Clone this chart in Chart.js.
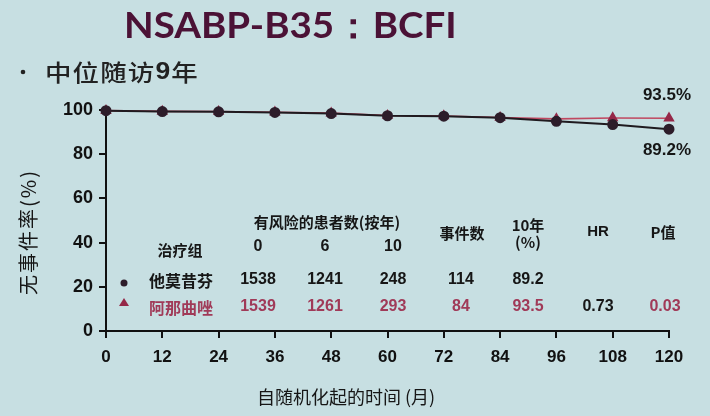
<!DOCTYPE html>
<html>
<head>
<meta charset="utf-8">
<script src="https://cdn.jsdelivr.net/npm/chart.js@4/dist/chart.umd.min.js"></script>
<style>
  html, body { margin: 0; padding: 0; background: #c7dfe2; }
  #wrap { width: 710px; height: 416px; position: relative; }
</style>
</head>
<body>
<div id="wrap"><canvas id="c" width="710" height="416"></canvas></div>
<script>
// ---- data ----
const months = [0, 12, 24, 36, 48, 60, 72, 84, 96, 108, 120];
const tamoxifen = [99.7, 99.3, 99.2, 98.9, 98.4, 97.4, 97.2, 96.5, 94.9, 93.4, 91.3];
const anastrozole = [99.7, 99.4, 99.3, 99.0, 98.6, 97.5, 97.3, 96.6, 96.0, 96.4, 96.3];
const xTicks = [0, 12, 24, 36, 48, 60, 72, 84, 96, 108, 120];
const yTicks = [0, 20, 40, 60, 80, 100];

const titleText = 'NSABP-B35：BCFI';
const subtitleText = '中位随访9年';
const yTitle = '无事件率(%)';
const xTitle = '自随机化起的时间 (月)';
const endLabels = ['93.5%', '89.2%'];

// table
const groups = ['他莫昔芬', '阿那曲唑'];
const atRisk0 = ['1538', '1539'];
const atRisk6 = ['1241', '1261'];
const atRisk10 = ['248', '293'];
const events = ['114', '84'];
const tenYear = ['89.2', '93.5'];
const hrVals = ['', '0.73'];
const pVals = ['', '0.03'];

const DARK = '#1f1a1f';
const RED = '#c04860';
const RED_MARK = '#952848';
const RED_TEXT = '#a03a58';
const CJK = '"Noto Sans CJK SC", "Noto Sans", sans-serif';
const LAT = '"Liberation Sans", Arial, sans-serif';

const decor = {
  id: 'decor',
  beforeDraw(chart) {
    const ctx = chart.ctx;
    ctx.save();
    ctx.fillStyle = '#c7dfe2';
    ctx.fillRect(0, 0, chart.width, chart.height);
    ctx.restore();
  },
  afterDraw(chart) {
    const ctx = chart.ctx;
    const area = chart.chartArea;
    ctx.save();
    // small axis extensions past the origin
    ctx.strokeStyle = '#111';
    ctx.lineWidth = 2;
    ctx.beginPath();
    ctx.moveTo(area.left - 7, area.bottom);
    ctx.lineTo(area.left, area.bottom);
    ctx.moveTo(area.left, area.bottom);
    ctx.lineTo(area.left, area.bottom + 6);
    ctx.stroke();

    ctx.textBaseline = 'middle';
    // title
    ctx.fillStyle = '#4b1236';
    ctx.font = 'bold 36px Lato, "Open Sans", sans-serif';
    ctx.textAlign = 'left';
    ctx.save();
    ctx.translate(124, 26);
    ctx.scale(1.07, 1);
    ctx.fillText(titleText, 0, 0);
    ctx.restore();
    // subtitle
    ctx.fillStyle = '#222';
    ctx.beginPath();
    ctx.arc(23, 72, 2.3, 0, Math.PI * 2);
    ctx.fill();
    ctx.save();
    ctx.translate(45, 72);
    ctx.scale(1.15, 1);
    ctx.letterSpacing = '1px';
    ctx.font = '500 23px ' + CJK;
    ctx.fillText('中位随访', 0, 0);
    let w = ctx.measureText('中位随访').width;
    ctx.font = 'bold 23px ' + LAT;
    ctx.fillText('9', w, 1);
    w += ctx.measureText('9').width;
    ctx.font = '500 23px ' + CJK;
    ctx.fillText('年', w, 0);
    ctx.restore();
    // axis titles
    ctx.fillStyle = '#161616';
    ctx.font = '18px ' + CJK;
    ctx.textAlign = 'center';
    ctx.fillText(xTitle, 346, 397);
    ctx.save();
    ctx.translate(28, 232);
    ctx.rotate(-Math.PI / 2);
    ctx.letterSpacing = '2px';
    ctx.font = '20px ' + CJK;
    ctx.fillText(yTitle, 0, 0);
    ctx.restore();
    // end labels
    ctx.font = 'bold 17px ' + LAT;
    ctx.fillStyle = '#161616';
    ctx.fillText(endLabels[0], 667, 95);
    ctx.fillText(endLabels[1], 667, 150);
    // table header
    ctx.font = 'bold 15px ' + CJK;
    ctx.fillText('有风险的患者数(按年)', 327, 222);
    ctx.fillText('事件数', 462, 233);
    ctx.fillText('10年', 528, 225);
    ctx.fillText('(%)', 528, 242);
    ctx.font = 'bold 15px ' + LAT;
    ctx.fillText('HR', 598, 232);
    ctx.font = 'bold 15px ' + CJK;
    ctx.fillText('P值', 663, 232);
    ctx.fillText('治疗组', 180, 250);
    ctx.font = 'bold 16px ' + LAT;
    ctx.fillText('0', 258, 247);
    ctx.fillText('6', 325, 247);
    ctx.fillText('10', 393, 247);
    // rows
    const rowY = [280, 307];
    const cols = [258, 325, 393, 461, 528, 598, 665];
    for (let r = 0; r < 2; r++) {
      const y = rowY[r];
      const col = r === 0 ? '#161616' : RED_TEXT;
      ctx.fillStyle = col;
      ctx.font = 'bold 16px ' + CJK;
      ctx.fillText(groups[r], 181, y + 1);
      ctx.font = 'bold 16px ' + LAT;
      const vals = [atRisk0[r], atRisk6[r], atRisk10[r], events[r], tenYear[r], hrVals[r], pVals[r]];
      vals.forEach((v, i) => {
        ctx.fillStyle = (r === 1 && i === 5) ? '#161616' : col;
        ctx.fillText(v, cols[i], y);
      });
    }
    // row markers
    ctx.fillStyle = '#2d1d2a';
    ctx.beginPath();
    ctx.arc(124, 283, 3.5, 0, Math.PI * 2);
    ctx.fill();
    ctx.fillStyle = RED_MARK;
    ctx.beginPath();
    ctx.moveTo(124, 298);
    ctx.lineTo(129, 306);
    ctx.lineTo(119, 306);
    ctx.closePath();
    ctx.fill();
    ctx.restore();
  }
};

const toPts = arr => months.map((m, i) => ({ x: m, y: arr[i] }));

new Chart(document.getElementById('c'), {
  type: 'line',
  data: {
    datasets: [
      {
        label: groups[0],
        data: toPts(tamoxifen),
        borderColor: DARK,
        borderWidth: 2,
        pointStyle: 'circle',
        pointRadius: 4.5,
        pointBackgroundColor: '#2d1d2a',
        pointBorderColor: '#2d1d2a',
        clip: false,
        order: 0
      },
      {
        label: groups[1],
        data: toPts(anastrozole),
        borderColor: RED,
        borderWidth: 1.6,
        pointStyle: 'triangle',
        pointRadius: 5,
        pointBackgroundColor: RED_MARK,
        pointBorderColor: RED_MARK,
        clip: false,
        order: 1
      }
    ]
  },
  options: {
    responsive: false,
    animation: false,
    layout: { padding: { top: 110, left: 46, right: 41, bottom: 0 } },
    plugins: { legend: { display: false }, tooltip: { enabled: false }, title: { display: false } },
    scales: {
      x: {
        type: 'linear',
        min: 0, max: 120,
        afterBuildTicks: s => { s.ticks = xTicks.map(v => ({ value: v })); },
        afterFit: s => { s.height = 85; },
        ticks: { color: '#111', font: { family: LAT, size: 17, weight: 'bold' }, padding: 9, maxRotation: 0 },
        grid: { drawOnChartArea: false, drawTicks: true, tickLength: 7, color: '#111', lineWidth: 2 },
        border: { color: '#111', width: 2 }
      },
      y: {
        min: 0, max: 100,
        afterBuildTicks: s => { s.ticks = yTicks.map(v => ({ value: v })); },
        afterFit: s => { s.width = 60; },
        ticks: { color: '#111', font: { family: LAT, size: 18, weight: 'bold' }, padding: 6 },
        grid: { drawOnChartArea: false, drawTicks: true, tickLength: 7, color: '#111', lineWidth: 2 },
        border: { color: '#111', width: 2 }
      }
    }
  },
  plugins: [decor]
});
</script>
</body>
</html>
